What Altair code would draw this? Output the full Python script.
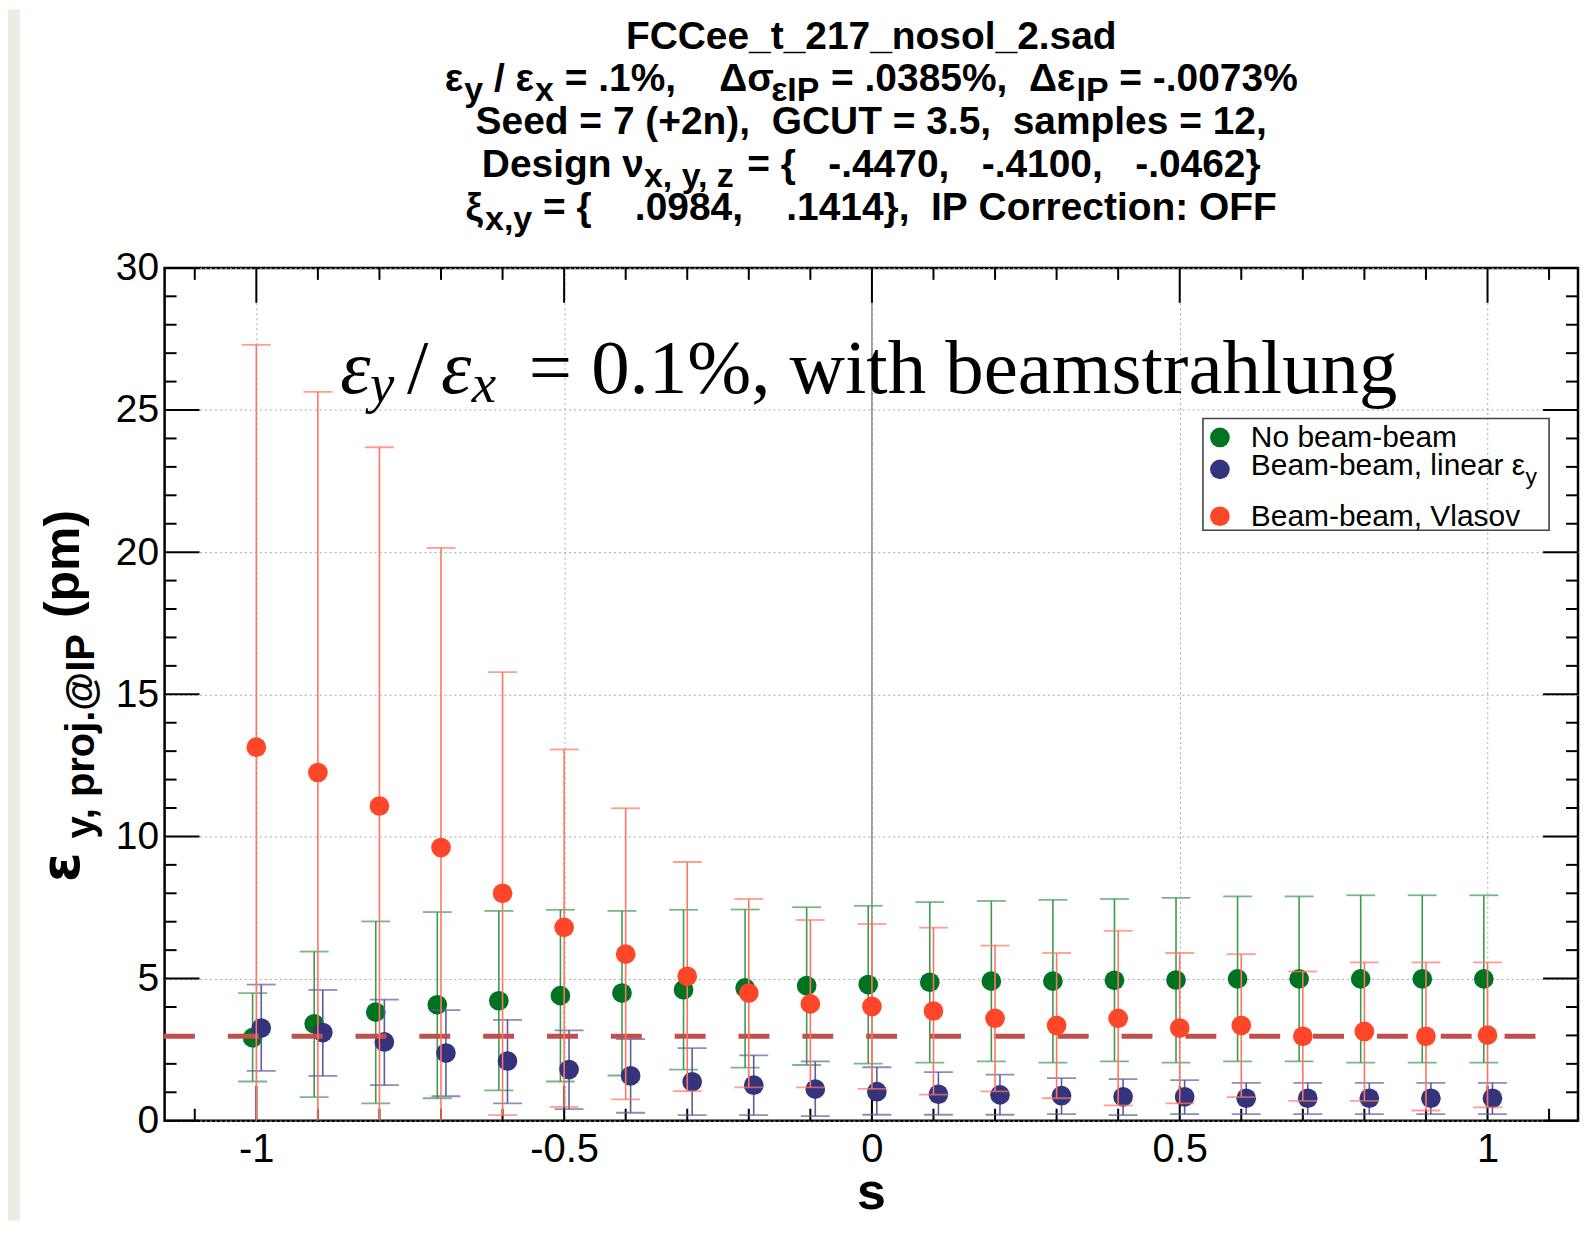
import altair as alt
import pandas as pd

# ---------------- data ----------------
s_vals = [-1.0, -0.9, -0.8, -0.7, -0.6, -0.5, -0.4, -0.3, -0.2, -0.1, 0.0,
          0.1, 0.2, 0.3, 0.4, 0.5, 0.6, 0.7, 0.8, 0.9, 1.0]

green_y = [2.92, 3.41, 3.82, 4.08, 4.22, 4.40, 4.49, 4.61, 4.67, 4.75, 4.79,
           4.87, 4.91, 4.91, 4.94, 4.95, 4.99, 4.99, 4.99, 4.99, 4.99]
green_hi = [4.49, 5.95, 7.01, 7.34, 7.38, 7.42, 7.38, 7.42, 7.43, 7.51, 7.56,
            7.69, 7.73, 7.77, 7.80, 7.84, 7.89, 7.89, 7.93, 7.93, 7.93]
green_lo = [1.38, 0.83, 0.61, 0.79, 1.07, 1.38, 1.59, 1.80, 1.87, 1.96, 2.01,
            2.04, 2.09, 2.04, 2.09, 2.04, 2.09, 2.09, 2.04, 2.04, 2.04]

blue_y = [3.26, 3.10, 2.77, 2.38, 2.10, 1.80, 1.58, 1.37, 1.25, 1.11, 1.02,
          0.93, 0.91, 0.88, 0.84, 0.84, 0.79, 0.79, 0.79, 0.79, 0.79]
blue_hi = [4.79, 4.60, 4.26, 3.89, 3.55, 3.18, 2.87, 2.55, 2.30, 2.09, 1.88,
           1.71, 1.62, 1.50, 1.46, 1.43, 1.33, 1.33, 1.33, 1.33, 1.33]
blue_lo = [1.75, 1.58, 1.25, 0.86, 0.61, 0.41, 0.28, 0.20, 0.20, 0.16, 0.21,
           0.21, 0.21, 0.23, 0.20, 0.23, 0.23, 0.23, 0.23, 0.23, 0.23]

red_y = [13.14, 12.25, 11.07, 9.61, 8.00, 6.80, 5.86, 5.08, 4.49, 4.11, 4.02,
         3.86, 3.60, 3.35, 3.60, 3.26, 3.35, 2.97, 3.14, 2.97, 3.01]
red_hi = [27.29, 25.64, 23.69, 20.15, 15.78, 13.06, 10.99, 9.10, 7.80, 7.06, 6.92,
          6.79, 6.16, 5.90, 6.68, 5.90, 5.86, 5.25, 5.57, 5.57, 5.57]
red_lo = [-1.01, -1.14, -1.55, -0.93, 0.20, 0.49, 0.75, 1.04, 1.17, 1.17, 1.12,
          0.92, 1.03, 0.79, 0.54, 0.61, 0.83, 0.70, 0.70, 0.36, 0.47]

green_shift = -0.006
blue_shift = 0.008

ref_line_x = [-1.15, 1.085]
ref_line_y = [2.97, 2.97]

x_domain = [-1.149, 1.147]
y_domain = [0, 30]
x_label_vals = [-1.0, -0.5, 0.0, 0.5, 1.0]
x_minor_vals = [-1.1, -0.9, -0.8, -0.7, -0.6, -0.4, -0.3, -0.2, -0.1,
                0.1, 0.2, 0.3, 0.4, 0.6, 0.7, 0.8, 0.9, 1.1]
y_label_vals = [0, 5, 10, 15, 20, 25, 30]
y_minor_vals = [v for v in range(1, 30) if v % 5 != 0]

title_lines = [
    [("FCCee_t_217_nosol_2.sad", 0)],
    [("ε", 0), ("y", 1), (" / ε", 0), ("x", 1), (" = .1%,    Δσ", 0), ("εIP", 1),
     (" = .0385%,  Δε", 0), ("IP", 1), (" = -.0073%", 0)],
    [("Seed = 7 (+2n),  GCUT = 3.5,  samples = 12,", 0)],
    [("Design ν", 0), ("x, y, z", 1), (" = {   -.4470,   -.4100,   -.0462}", 0)],
    [("ξ", 0), ("x,y", 1), (" = {    .0984,    .1414},  IP Correction: OFF", 0)],
]
legend_labels = ["No beam-beam", "Beam-beam, linear ε", "Beam-beam, Vlasov"]
legend_sub = "y"

GREEN = "#007322"
GREEN_ERR = "#3d9a52"
BLUE = "#34347c"
BLUE_ERR = "#5c5c9e"
RED = "#ff4628"
RED_ERR = "#ff7563"

# ---------------- layout helpers ----------------
W, H = 1417, 855
FONT = "Liberation Sans"
NBSP = "\u00a0"
dummy = pd.DataFrame({"a": [0]})

BOLD_W = {" ": 278, NBSP: 278, "!": 333, "%": 889, "(": 333, ")": 333, "+": 584,
          ",": 278, "-": 333, ".": 278, "/": 278, ":": 333, "=": 584, "@": 975,
          "{": 389, "}": 389, "_": 556, "Δ": 722, "σ": 611, "ε": 500, "ν": 556, "ξ": 500}
for c in "0123456789":
    BOLD_W[c] = 556
BOLD_W.update(dict(zip("ABCDEFGHIJKLMNOPQRSTUVWXYZ",
                       [722, 722, 722, 722, 667, 611, 778, 722, 278, 556, 722, 611, 833,
                        722, 778, 667, 778, 722, 667, 611, 722, 667, 944, 667, 667, 611])))
BOLD_W.update(dict(zip("abcdefghijklmnopqrstuvwxyz",
                       [556, 611, 556, 611, 556, 333, 611, 611, 278, 278, 556, 278, 889,
                        611, 611, 611, 611, 389, 556, 333, 611, 556, 778, 556, 556, 500])))
REG_W = {" ": 278, NBSP: 278, ",": 278, "-": 333, "N": 722, "B": 667, "V": 667,
         "o": 556, "b": 556, "e": 556, "a": 556, "m": 833, "l": 222, "i": 222,
         "n": 556, "r": 333, "s": 500, "v": 500, "y": 500, "ε": 450}


def tw(t, size, table):
    return sum(table.get(c, 556) for c in t) / 1000.0 * size


def seg(text, x, y, size, bold=True, align="left", angle=0, font=FONT,
        italic=False, color="black"):
    return alt.Chart(dummy).mark_text(
        text=text.replace(" ", NBSP), align=align, baseline="alphabetic",
        fontSize=size, fontWeight="bold" if bold else "normal", font=font,
        angle=angle, color=color, fontStyle="italic" if italic else "normal",
    ).encode(x=alt.value(x), y=alt.value(y))


xs = alt.Scale(domain=x_domain, nice=False, zero=False)
ys = alt.Scale(domain=y_domain, nice=False, zero=False)

x_axis = alt.Axis(values=x_label_vals, ticks=False, domain=False, grid=True,
                  gridColor="#a8a8a8", gridDash=[2, 3], gridWidth=1,
                  labelFont=FONT, labelFontSize=40, labelColor="black",
                  labelPadding=9, title=None,
                  labelExpr="datum.value < 0 ? '-' + format(-datum.value, '~g') : format(datum.value, '~g')")
y_axis = alt.Axis(values=y_label_vals, ticks=False, domain=False, grid=True,
                  gridColor="#a8a8a8", gridDash=[2, 3], gridWidth=1,
                  labelFont=FONT, labelFontSize=39, labelColor="black",
                  labelPadding=6, title=None)


def X(field="x"):
    return alt.X(f"{field}:Q", scale=xs, axis=x_axis)


def Y(field="y"):
    return alt.Y(f"{field}:Q", scale=ys, axis=y_axis)


layers = []

# left page strip (as in the reference page)
layers.append(alt.Chart(dummy).mark_rect(fill="#efeae2").encode(
    x=alt.value(-157), x2=alt.value(-145), y=alt.value(-259), y2=alt.value(955)))

# zero line
zero_df = pd.DataFrame({"x": [0.0]})
layers.append(alt.Chart(zero_df).mark_rule(color="#7a7a7a", strokeWidth=1.3).encode(x=X()))

# ticks (ROOT style, inside the frame on all sides)
ymaj = pd.DataFrame({"y": y_label_vals})
ymin = pd.DataFrame({"y": y_minor_vals})
xmaj = pd.DataFrame({"x": x_label_vals})
xmin = pd.DataFrame({"x": x_minor_vals})
tk = dict(color="black", strokeWidth=2)
layers += [
    alt.Chart(ymaj).mark_rule(**tk).encode(y=Y(), x=alt.value(0), x2=alt.value(35)),
    alt.Chart(ymin).mark_rule(**tk).encode(y=Y(), x=alt.value(0), x2=alt.value(12)),
    alt.Chart(ymaj).mark_rule(**tk).encode(y=Y(), x=alt.value(W), x2=alt.value(W - 35)),
    alt.Chart(ymin).mark_rule(**tk).encode(y=Y(), x=alt.value(W), x2=alt.value(W - 12)),
    alt.Chart(xmaj).mark_rule(**tk).encode(x=X(), y=alt.value(H), y2=alt.value(H - 35)),
    alt.Chart(xmin).mark_rule(**tk).encode(x=X(), y=alt.value(H), y2=alt.value(H - 12)),
    alt.Chart(xmaj).mark_rule(**tk).encode(x=X(), y=alt.value(0), y2=alt.value(35)),
    alt.Chart(xmin).mark_rule(**tk).encode(x=X(), y=alt.value(0), y2=alt.value(12)),
]

DOT = 390


def series(yv, lo, hi, shift, col, ecol):
    df = pd.DataFrame({"x": [s + shift for s in s_vals], "y": yv, "lo": lo, "hi": hi})
    err = alt.Chart(df).mark_rule(color=ecol, strokeWidth=1.6, clip=True).encode(
        x=X(), y=Y("lo"), y2="hi:Q")
    cap_hi = alt.Chart(df).mark_tick(color=ecol, orient="horizontal", size=29,
                                     thickness=1.8, clip=True).encode(x=X(), y=Y("hi"))
    cap_lo = alt.Chart(df).mark_tick(color=ecol, orient="horizontal", size=29,
                                     thickness=1.8, clip=True).encode(x=X(), y=Y("lo"))
    pts = alt.Chart(df).mark_circle(color=col, opacity=1, size=DOT).encode(x=X(), y=Y())
    return [err, cap_hi, cap_lo], pts


g_err, g_pts = series(green_y, green_lo, green_hi, green_shift, GREEN, GREEN_ERR)
b_err, b_pts = series(blue_y, blue_lo, blue_hi, blue_shift, BLUE, BLUE_ERR)
r_err, r_pts = series(red_y, red_lo, red_hi, 0.0, RED, RED_ERR)

ref_df = pd.DataFrame({"x": ref_line_x, "y": ref_line_y})
ref_line = alt.Chart(ref_df).mark_line(color="#c0504d", strokeWidth=5,
                                       strokeDash=[31, 33], strokeCap="butt").encode(
    x=X(), y=Y())

layers += g_err + [g_pts] + b_err + [b_pts, ref_line] + r_err + [r_pts]

# ---------------- title (five centred lines, with subscripts) ----------------
TITLE_SIZE, TITLE_SUB, SUB_DY = 39, 34, 10
baselines = [-219, -177, -134, -91, -48]
cx = W / 2
for segs, base in zip(title_lines, baselines):
    total = sum(tw(t, TITLE_SUB if sub else TITLE_SIZE, BOLD_W) for t, sub in segs)
    x = cx - total / 2
    for t, sub in segs:
        sz = TITLE_SUB if sub else TITLE_SIZE
        lead = len(t) - len(t.lstrip(" "))
        layers.append(seg(t.lstrip(" "), x + tw(" " * lead, sz, BOLD_W),
                          base + (SUB_DY if sub else 0), sz))
        x += tw(t, sz, BOLD_W)

# ---------------- axis titles ----------------
layers.append(seg("s", W / 2, 944, 52, align="center"))
layers.append(seg("ε", -86, 616, 54, angle=270, font="DejaVu Sans"))
layers.append(seg("y, proj.@IP", -71, 572, 40, angle=270))
layers.append(seg("(pm)", -86, 351, 50, angle=270))

# ---------------- annotation ----------------
SERIF = "Liberation Serif"
ann_base = 125
layers += [
    seg("ε", 176, ann_base, 77, bold=False, font=SERIF, italic=True),
    seg("y", 206, ann_base + 9, 55, bold=False, font=SERIF, italic=True),
    seg("/", 243, ann_base, 77, bold=False, font=SERIF),
    seg("ε", 277, ann_base, 77, bold=False, font=SERIF, italic=True),
    seg("x", 308, ann_base + 9, 55, bold=False, font=SERIF, italic=True),
    seg("= 0.1%, with beamstrahlung", 365, ann_base, 77, bold=False, font=SERIF),
]

# ---------------- legend ----------------
LX0, LX1, LY0, LY1 = 1041, 1388, 151, 263
layers.append(alt.Chart(dummy).mark_rect(fill=None, stroke="#444444", strokeWidth=1.6).encode(
    x=alt.value(LX0), x2=alt.value(LX1), y=alt.value(LY0), y2=alt.value(LY1)))
leg_y = [170, 202, 249]
leg_base = [180, 208, 259]
leg_cols = [GREEN, BLUE, RED]
LEG_SIZE = 30
for lab, col, py, pb in zip(legend_labels, leg_cols, leg_y, leg_base):
    layers.append(alt.Chart(dummy).mark_circle(color=col, opacity=1, size=DOT).encode(
        x=alt.value(1058), y=alt.value(py)))
    layers.append(seg(lab, 1089, pb, LEG_SIZE, bold=False))
sub_x = 1089 + tw(legend_labels[1], LEG_SIZE, REG_W)
layers.append(seg(legend_sub, sub_x, leg_base[1] + 9, 23, bold=False))

chart = alt.layer(*layers).properties(
    width=W, height=H,
    padding={"left": 157, "top": 259, "right": 2, "bottom": 100},
    autosize=alt.AutoSizeParams(type="none"),
    background="white",
).configure_view(stroke="black", strokeWidth=2.5)

chart.save("out.html", embed_options={"renderer": "svg", "actions": False})
